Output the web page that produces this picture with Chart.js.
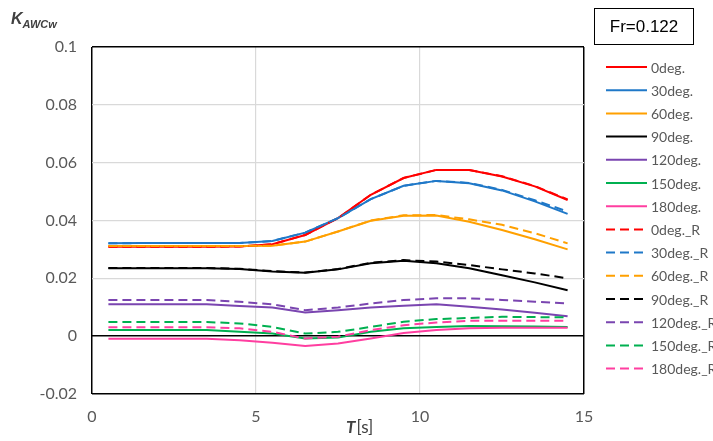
<!DOCTYPE html>
<html>
<head>
<meta charset="utf-8">
<script src="https://cdn.jsdelivr.net/npm/chart.js@4/dist/chart.umd.min.js"></script>
<style>
  html, body { margin: 0; padding: 0; background: #fff; }
  #wrap { width: 713px; height: 441px; position: relative; }
</style>
</head>
<body>
<div id="wrap"><canvas id="c" width="713" height="441"></canvas></div>
<script>
// Wave period T [s]
const periods = [0.5, 1.5, 2.5, 3.5, 4.5, 5.5, 6.5, 7.5, 8.5, 9.5, 10.5, 11.5, 12.5, 13.5, 14.5];

// K_AWCw by heading, computed results
const k0   = [0.0309, 0.0309, 0.0309, 0.0309, 0.0310, 0.0318, 0.0350, 0.0408, 0.0489, 0.0547, 0.0575, 0.0575, 0.0552, 0.0518, 0.0471];
const k30  = [0.0321, 0.0322, 0.0322, 0.0322, 0.0322, 0.0329, 0.0358, 0.0408, 0.0474, 0.0520, 0.0537, 0.0529, 0.0504, 0.0466, 0.0423];
const k60  = [0.0312, 0.0312, 0.0312, 0.0312, 0.0312, 0.0313, 0.0327, 0.0362, 0.0399, 0.0416, 0.0417, 0.0396, 0.0367, 0.0335, 0.0300];
const k90  = [0.0235, 0.0235, 0.0235, 0.0235, 0.0232, 0.0224, 0.0219, 0.0231, 0.0252, 0.0261, 0.0252, 0.0235, 0.0211, 0.0186, 0.0159];
const k120 = [0.0110, 0.0110, 0.0110, 0.0110, 0.0104, 0.0099, 0.0082, 0.0090, 0.0099, 0.0105, 0.0110, 0.0102, 0.0092, 0.0081, 0.0069];
const k150 = [0.0021, 0.0021, 0.0021, 0.0021, 0.0015, 0.0009, -0.0008, -0.0005, 0.0015, 0.0027, 0.0032, 0.0035, 0.0034, 0.0033, 0.0032];
const k180 = [-0.0009, -0.0009, -0.0009, -0.0009, -0.0014, -0.0023, -0.0034, -0.0025, -0.0008, 0.0011, 0.0021, 0.0027, 0.0029, 0.0029, 0.0029];

// K_AWCw by heading, "_R" results
const k0R   = [0.0309, 0.0309, 0.0309, 0.0309, 0.0310, 0.0318, 0.0350, 0.0408, 0.0489, 0.0547, 0.0575, 0.0575, 0.0553, 0.0519, 0.0473];
const k30R  = [0.0321, 0.0322, 0.0322, 0.0322, 0.0322, 0.0329, 0.0358, 0.0408, 0.0474, 0.0520, 0.0537, 0.0530, 0.0506, 0.0470, 0.0431];
const k60R  = [0.0312, 0.0312, 0.0312, 0.0312, 0.0312, 0.0313, 0.0327, 0.0362, 0.0400, 0.0418, 0.0419, 0.0404, 0.0385, 0.0356, 0.0321];
const k90R  = [0.0236, 0.0236, 0.0236, 0.0236, 0.0233, 0.0225, 0.0220, 0.0232, 0.0254, 0.0263, 0.0258, 0.0246, 0.0231, 0.0217, 0.0200];
const k120R = [0.0125, 0.0125, 0.0125, 0.0125, 0.0119, 0.0110, 0.0090, 0.0099, 0.0113, 0.0125, 0.0131, 0.0131, 0.0125, 0.0119, 0.0113];
const k150R = [0.0049, 0.0049, 0.0049, 0.0049, 0.0044, 0.0032, 0.0009, 0.0015, 0.0032, 0.0050, 0.0059, 0.0063, 0.0067, 0.0066, 0.0065];
const k180R = [0.0031, 0.0031, 0.0031, 0.0031, 0.0027, 0.0015, -0.0008, -0.0002, 0.0021, 0.0038, 0.0047, 0.0053, 0.0053, 0.0053, 0.0053];

const seriesNames = ['0deg.', '30deg.', '60deg.', '90deg.', '120deg.', '150deg.', '180deg.',
                     '0deg._R', '30deg._R', '60deg._R', '90deg._R', '120deg._R', '150deg._R', '180deg._R'];
const seriesValues = [k0, k30, k60, k90, k120, k150, k180, k0R, k30R, k60R, k90R, k120R, k150R, k180R];
const headingColors = ['#FF0000', '#1F78C8', '#FFA000', '#000000', '#7A45B0', '#00B050', '#FF3EA0'];

const froudeLabel = 'Fr=0.122';
const xTitleItalic = 'T';
const xTitleRest = '[s]';
const yTitleMain = 'K';
const yTitleSub = 'AWCw';

const DASH = [9, 5];

const datasets = seriesValues.map((vals, i) => ({
  label: seriesNames[i],
  data: vals.map((v, j) => ({ x: periods[j], y: v })),
  borderColor: headingColors[i % 7],
  backgroundColor: headingColors[i % 7],
  borderWidth: 2,
  borderDash: i >= 7 ? DASH : [],
  pointRadius: 0,
  tension: 0,
  fill: false,
  order: -i
}));

const TICK_FONT = { family: 'Lato, "Liberation Sans", sans-serif', size: 16 };

// Titles, Froude box and legend drawn on the canvas
const decorations = {
  id: 'decorations',
  afterDraw(chart) {
    const ctx = chart.ctx;
    const ds = chart.data.datasets;
    ctx.save();

    // Froude number box
    ctx.strokeStyle = '#000';
    ctx.lineWidth = 1;
    ctx.strokeRect(594.5, 8.5, 99, 36);
    ctx.fillStyle = '#000';
    ctx.font = '17px "Liberation Sans", Arial, sans-serif';
    ctx.textAlign = 'center';
    ctx.textBaseline = 'middle';
    ctx.fillText(froudeLabel, 644, 27);

    // Legend
    ctx.textAlign = 'left';
    ctx.font = '14px Lato, "Liberation Sans", sans-serif';
    ds.forEach((d, i) => {
      const y = 67 + i * 23.2;
      ctx.beginPath();
      ctx.setLineDash(d.borderDash || []);
      ctx.strokeStyle = d.borderColor;
      ctx.lineWidth = 2;
      ctx.moveTo(606, y);
      ctx.lineTo(647, y);
      ctx.stroke();
      ctx.setLineDash([]);
      ctx.fillStyle = '#595959';
      ctx.fillText(d.label, 651, y + 1);
    });

    // y-axis title with subscript
    ctx.fillStyle = '#404040';
    ctx.textBaseline = 'alphabetic';
    ctx.font = 'italic bold 16px "Liberation Sans", Arial, sans-serif';
    ctx.fillText(yTitleMain, 11, 24);
    const kw = ctx.measureText(yTitleMain).width;
    ctx.font = 'italic bold 11px "Liberation Sans", Arial, sans-serif';
    ctx.fillText(yTitleSub, 11 + kw, 28);

    // x-axis title
    ctx.font = 'italic bold 17px Lato, "Liberation Sans", sans-serif';
    const tw = ctx.measureText(xTitleItalic).width;
    ctx.fillText(xTitleItalic, 346, 433);
    ctx.font = '17px Lato, "Liberation Sans", sans-serif';
    ctx.fillText(xTitleRest, 346 + tw + 1, 433);

    ctx.restore();
  }
};

new Chart(document.getElementById('c'), {
  type: 'line',
  data: { datasets },
  options: {
    responsive: false,
    animation: false,
    layout: { padding: { left: 0, right: 129, top: 47, bottom: 0 } },
    plugins: { legend: { display: false }, tooltip: { enabled: false } },
    scales: {
      x: {
        type: 'linear',
        min: 0, max: 15,
        afterFit: s => { s.height = 47; },
        ticks: { stepSize: 5, color: '#595959', font: TICK_FONT, padding: 13 },
        grid: {
          drawTicks: false,
          color: c => (c.tick.value === 0 || c.tick.value === 15) ? '#000' : '#d9d9d9',
          lineWidth: c => (c.tick.value === 0 || c.tick.value === 15) ? 1.5 : 1.2
        },
        border: { display: false }
      },
      y: {
        min: -0.02, max: 0.1,
        afterFit: s => { s.width = 92; },
        ticks: {
          stepSize: 0.02, color: '#595959', font: TICK_FONT, padding: 15,
          callback: v => String(+v.toFixed(2))
        },
        grid: {
          drawTicks: false,
          color: c => {
            const v = +c.tick.value.toFixed(3);
            return (v === 0 || v === 0.1 || v === -0.02) ? '#000' : '#d9d9d9';
          },
          lineWidth: c => {
            const v = +c.tick.value.toFixed(3);
            return (v === 0 || v === 0.1 || v === -0.02) ? 1.5 : 1.2;
          }
        },
        border: { display: false }
      }
    }
  },
  plugins: [decorations]
});
</script>
</body>
</html>
